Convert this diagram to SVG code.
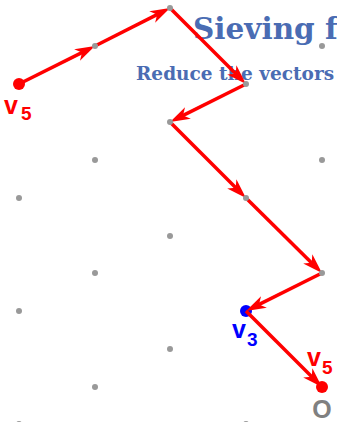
<svg xmlns="http://www.w3.org/2000/svg" width="337" height="422" viewBox="0 0 337 422">
  <defs>
    <marker id="ah" markerUnits="userSpaceOnUse" viewBox="0 0 20 14" markerWidth="20" markerHeight="14" refX="12" refY="7" orient="auto">
      <path d="M20,7 L0,0.5 L5.5,7 L0,13.5 Z" fill="#ff0000"/>
    </marker>
  </defs>
  <style>
    .title { font-family: "DejaVu Serif", serif; font-weight: bold; fill: #4a6cb3; }
    .lab { font-family: "Liberation Sans", Arial, sans-serif; font-weight: bold; }
    .grid circle { fill: #999999; }
    .conn line { stroke: #ff0000; stroke-width: 3.5; marker-end: url(#ah); }
  </style>
  <rect width="337" height="422" fill="#ffffff"/>
  <g id="title">
    <text class="title" x="193" y="39" font-size="29.5">Sieving f</text>
    <text class="title" x="136" y="80" font-size="18.5">Reduce the vectors</text>
  </g>
  <g id="v3">
    <circle cx="246" cy="311" r="6" fill="#0000ff"/>
    <text class="lab" x="232" y="338" font-size="25" fill="#0000ff">v</text>
    <text class="lab" x="247" y="346" font-size="19" fill="#0000ff">3</text>
  </g>
  <g id="connectors" class="conn">
    <line x1="19" y1="84" x2="87.8" y2="49.6"/>
    <line x1="95" y1="46" x2="162.9" y2="11.6"/>
    <line x1="170" y1="8" x2="240.3" y2="78.3"/>
    <line x1="246" y1="84" x2="177.2" y2="118.4"/>
    <line x1="170" y1="122" x2="240.3" y2="192.3"/>
    <line x1="246" y1="198" x2="316.3" y2="267.4"/>
    <line x1="322" y1="273" x2="253.2" y2="307.4"/>
    <line x1="246" y1="311" x2="316.3" y2="381.3"/>
  </g>
  <g id="lattice" class="grid">
    <circle cx="19" cy="198" r="3"/>
    <circle cx="19" cy="311" r="3"/>
    <circle cx="19" cy="424" r="3"/>
    <circle cx="95" cy="46" r="3"/>
    <circle cx="95" cy="160" r="3"/>
    <circle cx="95" cy="273" r="3"/>
    <circle cx="95" cy="387" r="3"/>
    <circle cx="170" cy="8" r="3"/>
    <circle cx="170" cy="122" r="3"/>
    <circle cx="170" cy="236" r="3"/>
    <circle cx="170" cy="349" r="3"/>
    <circle cx="246" cy="84" r="3"/>
    <circle cx="246" cy="198" r="3"/>
    <circle cx="246" cy="424" r="3"/>
    <circle cx="322" cy="46" r="3"/>
    <circle cx="322" cy="160" r="3"/>
    <circle cx="322" cy="273" r="3"/>
  </g>
  <g id="v5-start">
    <circle cx="19" cy="84" r="6" fill="#ff0000"/>
    <text class="lab" x="4" y="114" font-size="25" fill="#ff0000">v</text>
    <text class="lab" x="21" y="120" font-size="19" fill="#ff0000">5</text>
  </g>
  <g id="origin">
    <circle cx="322" cy="387" r="6" fill="#ff0000"/>
    <text class="lab" x="307" y="366" font-size="25" fill="#ff0000">v</text>
    <text class="lab" x="322" y="374" font-size="19" fill="#ff0000">5</text>
    <text class="lab" x="322" y="418" font-size="25" fill="#808080" text-anchor="middle">O</text>
  </g>
</svg>
